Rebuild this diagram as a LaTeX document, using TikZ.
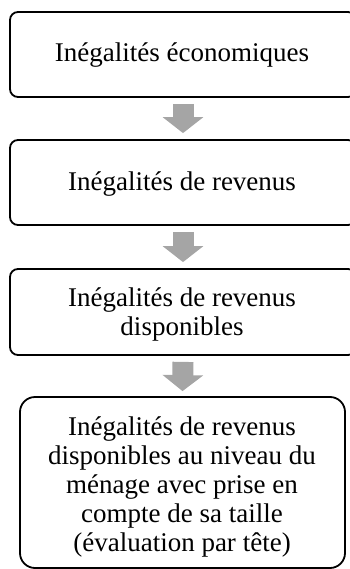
\documentclass[tikz,border=0pt]{standalone}
\usepackage{fontspec}
\setmainfont{Liberation Serif}
\usetikzlibrary{arrows.meta}
\definecolor{arrowgray}{HTML}{A5A5A5}
\tikzset{
  box/.style={draw=black, line width=1.8bp, rounded corners=8bp, inner sep=0pt,
    font=\fontsize{27bp}{29bp}\selectfont, align=center},
  flow/.style={draw=arrowgray, line width=21bp, line cap=butt,
    -{Triangle[width=40bp,length=16bp]}}
}
\begin{document}
\begin{tikzpicture}[x=1bp,y=-1bp]
\useasboundingbox (0,0) rectangle (349,569);
% boxes
\node[box, minimum width=346bp, minimum height=85bp, text width=330bp] (b1) at (183,54.5) {};
\node[box, minimum width=346bp, minimum height=85bp] (b2) at (183,182.5) {};
\node[box, minimum width=346bp, minimum height=86bp] (b3) at (183,312) {};
\node[box, rounded corners=15bp, minimum width=325bp, minimum height=171bp] (b4) at (182.5,482.5) {};
% texts
\node[box, draw=none, anchor=base] (t1) at (182,62) {Inégalités économiques};
\node[box, draw=none, anchor=base] (t2) at (182,190) {Inégalités de revenus};
\node[box, draw=none, anchor=base] (t3) at (182,335) {Inégalités de revenus\\disponibles};
\node[box, draw=none, anchor=base] (t4) at (182,551) {Inégalités de revenus\\disponibles au niveau du\\ménage avec prise en\\compte de sa taille\\(évaluation par tête)};
% arrows
\draw[flow] ([yshift=-6bp]b1.south) -- ([yshift=6bp]b2.north);
\draw[flow] ([yshift=-6bp]b2.south) -- ([yshift=6bp]b3.north);
\draw[flow] ([yshift=-6bp]b3.south) -- ([yshift=5bp]b4.north);
\end{tikzpicture}
\end{document}
